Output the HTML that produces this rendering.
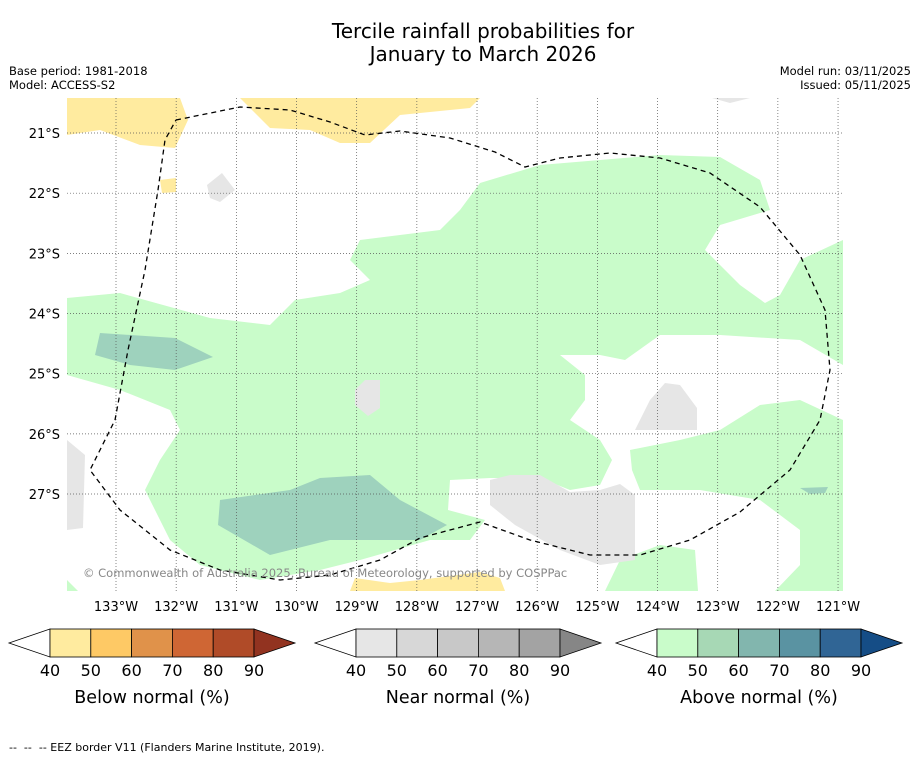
<!DOCTYPE html>
<html><head><meta charset="utf-8"><style>
body{margin:0;background:#fff;width:919px;height:758px;overflow:hidden;font-family:"DejaVu Sans","Liberation Sans",sans-serif}
svg text{font-family:"DejaVu Sans","Liberation Sans",sans-serif}
</style></head><body>
<svg id="chart" width="919" height="758" xmlns="http://www.w3.org/2000/svg">
<text x="483" y="38" font-size="20" text-anchor="middle">Tercile rainfall probabilities for</text>
<text x="483" y="61" font-size="20" text-anchor="middle">January to March 2026</text>
<text x="9" y="75" font-size="11.5">Base period: 1981-2018</text>
<text x="9" y="89" font-size="11.5">Model: ACCESS-S2</text>
<text x="911" y="75" font-size="11.5" text-anchor="end">Model run: 03/11/2025</text>
<text x="911" y="89" font-size="11.5" text-anchor="end">Issued: 05/11/2025</text>
<defs><clipPath id="mc"><rect x="67" y="98" width="776" height="493"/></clipPath></defs>
<g id="map" clip-path="url(#mc)">
<path fill="#c9fcca" d="M67,298 L120,293 L210,318 L270,325 L295,300 L340,293 L370,280 L350,260 L360,240 L440,230 L460,210 L480,183 L540,165 L600,160 L660,155 L720,157 L760,180 L770,210 L720,225 L705,250 L740,285 L765,303 L780,295 L800,260 L843,240 L843,365 L800,340 L720,335 L660,335 L625,360 L600,355 L560,355 L585,375 L585,400 L570,420 L600,440 L612,460 L600,485 L570,490 L540,478 L490,478 L450,480 L448,510 L485,520 L470,540 L430,540 L360,560 L320,570 L260,580 L200,565 L170,540 L145,490 L160,460 L180,430 L170,410 L120,390 L67,375 Z M345,390 L360,372 L388,372 L392,405 L372,425 L337,412 Z M630,450 L680,440 L720,430 L760,405 L800,400 L843,420 L843,591 L775,591 L800,565 L800,530 L760,500 L700,490 L640,490 L632,470 Z M605,591 L620,560 L660,545 L695,550 L698,591 Z M67,580 L78,591 L67,591 Z"/>
<path fill="#9ed2bd" d="M95,355 L100,333 L175,338 L213,357 L175,370 L130,365 Z M218,525 L220,500 L290,490 L320,478 L370,475 L400,500 L447,525 L420,540 L330,540 L270,555 Z M800,488 L828,487 L825,493 L810,494 Z"/>
<path fill="#ffeb9f" d="M67,98 L180,98 L188,120 L175,148 L140,145 L100,130 L67,135 Z M240,98 L480,98 L470,108 L400,115 L370,143 L340,143 L310,130 L270,128 Z M160,180 L176,178 L176,192 L162,193 Z M350,591 L355,578 L390,583 L420,580 L480,572 L500,578 L505,591 Z"/>
<path fill="#e6e6e6" d="M207,185 L222,173 L235,190 L220,202 L210,198 Z M355,390 L365,380 L380,380 L380,408 L368,416 L355,405 Z M635,430 L650,400 L665,383 L680,385 L697,408 L697,430 Z M490,480 L510,475 L540,475 L570,492 L600,490 L620,484 L635,495 L635,560 L600,565 L560,550 L515,525 L490,505 Z M712,98 L750,98 L730,103 Z M67,440 L85,455 L83,528 L67,530 Z"/>
<g id="grid"></g>
<polyline fill="none" stroke="#000" stroke-width="1.3" stroke-dasharray="5,4" points="176,120 240,107 290,110 330,122 365,135 400,131 450,138 495,152 525,167 560,158 610,153 660,158 710,173 760,207 800,255 825,310 830,370 820,420 790,470 740,512 690,540 640,555 590,555 530,540 480,522 420,538 380,560 330,575 280,580 220,570 170,550 120,510 90,470 115,420 128,350 145,270 158,190 165,140 176,120"/>
<text x="83" y="577" font-size="11.5" fill="#888">© Commonwealth of Australia 2025, Bureau of Meteorology, supported by COSPPac</text>
</g>
<g id="axes"></g>
<g id="cbars"></g>
<text x="9" y="751" font-size="11" xml:space="preserve" style="white-space:pre">--  --  -- EEZ border V11 (Flanders Marine Institute, 2019).</text>
</svg>
<script>
const lonTicks=[133,132,131,130,129,128,127,126,125,124,123,122,121];
const latTicks=[21,22,23,24,25,26,27];
const levels=[40,50,60,70,80,90];
const belowColors=["#ffeb9f","#fec965","#e0924a","#cf6634","#b04b28","#923320"];
const nearColors=["#e6e6e6","#d7d7d7","#c8c8c8","#b6b6b6","#a3a3a3","#868686"];
const aboveColors=["#c9fcca","#a7d8b5","#82b6ae","#5a93a2","#306595","#154d86"];
const cbarTitles=["Below normal (%)","Near normal (%)","Above normal (%)"];
const NS="http://www.w3.org/2000/svg";
const xOf=lon=>116+(133-lon)*60.17;
const yOf=lat=>133+(lat-21)*60.17;
function mk(t,a,p){const e=document.createElementNS(NS,t);for(const k in a)e.setAttribute(k,a[k]);p.appendChild(e);return e;}
const grid=document.getElementById('grid'),axes=document.getElementById('axes');
lonTicks.forEach(l=>{const x=xOf(l);
const g=mk('line',{x1:x,x2:x,y1:98,y2:591,stroke:'#555','stroke-width':0.7,'stroke-dasharray':'1,2'},grid);


const t=mk('text',{x:x,y:611,'font-size':13,'text-anchor':'middle'},axes);t.textContent=l+'°W';

});
latTicks.forEach(l=>{const y=yOf(l);
const g=mk('line',{x1:67,x2:843,y1:y,y2:y,stroke:'#555','stroke-width':0.7,'stroke-dasharray':'1,2'},grid);


const t=mk('text',{x:60,y:y+5,'font-size':13,'text-anchor':'end'},axes);t.textContent=l+'°S';

});
const cb=document.getElementById('cbars');
[[50,belowColors],[356,nearColors],[657,aboveColors]].forEach(([x0,cols],i)=>{
const w=204/(levels.length-1),y0=629,h=28;
const lt=mk('polygon',{points:`${x0},${y0} ${x0-41},${y0+h/2} ${x0},${y0+h}`,fill:'#fff',stroke:'#000','stroke-width':0.8},cb);


for(let k=0;k<levels.length-1;k++){const r=mk('rect',{x:x0+k*w,y:y0,width:w,height:h,fill:cols[k],stroke:'#000','stroke-width':0.8},cb);

}
const rt=mk('polygon',{points:`${x0+204},${y0} ${x0+245},${y0+h/2} ${x0+204},${y0+h}`,fill:cols[5],stroke:'#000','stroke-width':0.8},cb);


levels.forEach((v,k)=>{const t=mk('text',{x:x0+k*w,y:676,'font-size':16,'text-anchor':'middle'},cb);t.textContent=v;

});
const tt=mk('text',{x:x0+102,y:703,'font-size':17.5,'text-anchor':'middle'},cb);tt.textContent=cbarTitles[i];


});
</script>
</body></html>
